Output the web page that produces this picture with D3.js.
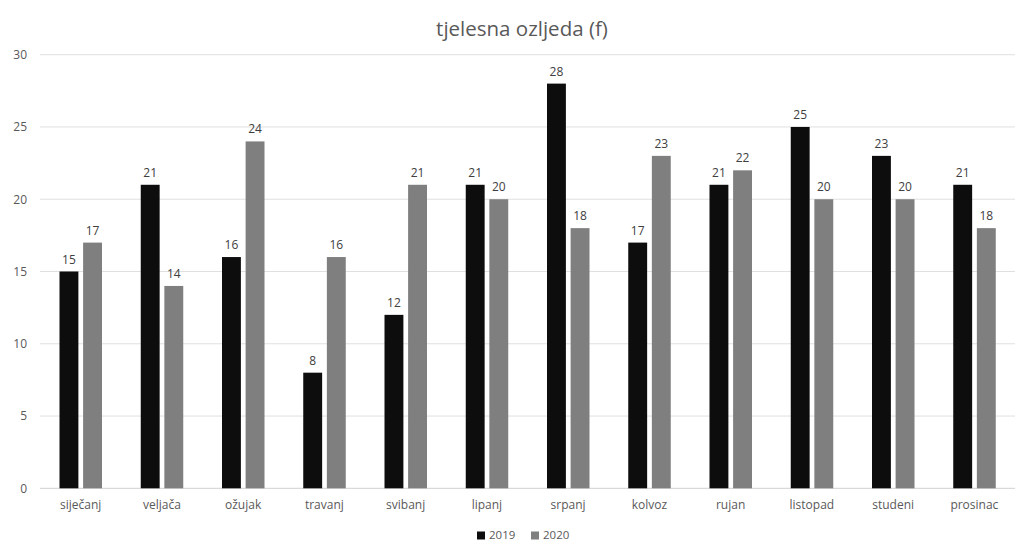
<!DOCTYPE html>
<html><head><meta charset="utf-8">
<script src="https://cdn.jsdelivr.net/npm/d3@7"></script>
<style>body{margin:0;background:#fff;} text{font-family:"Open Sans","Liberation Sans",sans-serif;}</style>
</head><body>
<svg id="c" width="1017" height="541"></svg>
<script>
const categories = ["siječanj","veljača","ožujak","travanj","svibanj","lipanj","srpanj","kolvoz","rujan","listopad","studeni","prosinac"];
const seriesNames = ["2019","2020"];
const values2019 = [15,21,16,8,12,21,28,17,21,25,23,21];
const values2020 = [17,14,24,16,21,20,18,23,22,20,20,18];
const yTicks = [0,5,10,15,20,25,30];
const colors = ["#0d0d0d","#7f7f7f"];
const title = "tjelesna ozljeda (f)";

(function(){
const svg = d3.select("#c");
const pLeft = 40, pRight = 1015, pTop = 54.7, pBottom = 488.3;
const x0 = d3.scaleBand().domain(categories).range([pLeft, pRight]).padding(0);
const x1 = d3.scaleBand().domain(seriesNames).range([19.5, 62]).paddingInner(0.2);
const y = d3.scaleLinear().domain([0,30]).range([pBottom, pTop]);

svg.append("text").attr("x", 522).attr("y", 36).attr("text-anchor","middle")
  .attr("font-size", 20.5).attr("fill","#595959").text(title);

svg.append("g").selectAll("line").data(yTicks).join("line")
  .attr("x1", pLeft).attr("x2", pRight)
  .attr("y1", d => y(d)).attr("y2", d => y(d))
  .attr("stroke", d => d === 0 ? "#d0d0d0" : "#e0e0e0").attr("stroke-width", 1);

const yAxis = d3.axisLeft(y).tickValues(yTicks).tickSize(0).tickPadding(0);
const gy = svg.append("g").attr("transform", `translate(27,0)`).call(yAxis);
gy.select(".domain").remove();
gy.selectAll("text").attr("font-size", 12).attr("fill", "#595959")
  .style("font-family", '"Open Sans","Liberation Sans",sans-serif');

const xAxis = d3.axisBottom(x0).tickSize(0).tickPadding(0);
const gx = svg.append("g").attr("transform", `translate(0,${pBottom + 12})`).call(xAxis);
gx.select(".domain").remove();
gx.selectAll("text").attr("font-size", 12).attr("fill", "#595959")
  .style("font-family", '"Open Sans","Liberation Sans",sans-serif');

const data = categories.map((c,i) => ({c, vals: [values2019[i], values2020[i]]}));
const groups = svg.append("g").selectAll("g").data(data).join("g")
  .attr("transform", d => `translate(${x0(d.c)},0)`);
groups.selectAll("rect").data(d => d.vals.map((v,j) => ({s: seriesNames[j], v, j}))).join("rect")
  .attr("x", d => x1(d.s)).attr("width", x1.bandwidth())
  .attr("y", d => y(d.v)).attr("height", d => pBottom - y(d.v))
  .attr("fill", d => colors[d.j]);
groups.selectAll("text").data(d => d.vals.map((v,j) => ({s: seriesNames[j], v, j}))).join("text")
  .attr("x", d => x1(d.s) + x1.bandwidth()/2).attr("y", d => y(d.v) - 8)
  .attr("text-anchor","middle").attr("font-size", 12).attr("fill","#404040")
  .text(d => d.v);

const leg = svg.append("g");
const legX = [477, 531];
seriesNames.forEach((s,i) => {
  leg.append("rect").attr("x", legX[i]).attr("y", 531.5).attr("width", 8).attr("height", 8).attr("fill", colors[i]);
  leg.append("text").attr("x", legX[i] + 12).attr("y", 539).attr("font-size", 11.5).attr("fill","#595959").text(s);
});
})();
</script>
</body></html>
